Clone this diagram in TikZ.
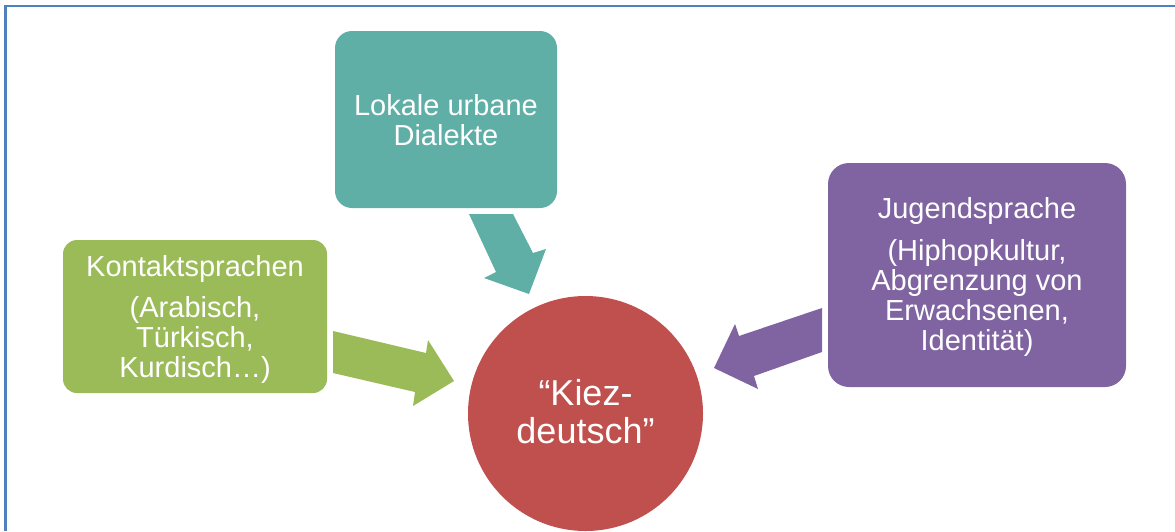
\documentclass[tikz,border=0pt]{standalone}
\usepackage{fontspec}
\setmainfont{Liberation Sans}
\definecolor{frameblue}{RGB}{79,129,189}
\definecolor{tealc}{RGB}{95,175,166}
\definecolor{greenc}{RGB}{155,187,89}
\definecolor{purplec}{RGB}{128,100,162}
\definecolor{redc}{RGB}{192,80,77}
\tikzset{
  txt/.style={text=white, align=center, inner sep=0pt, font=\fontsize{29}{30}\selectfont},
  bigtxt/.style={text=white, align=center, inner sep=0pt, font=\fontsize{36}{37.5}\selectfont},
}
\begin{document}
\begin{tikzpicture}[x=1pt,y=-1pt]
\useasboundingbox (0,0) rectangle (1175,531);
% frame (cropped on right and bottom)
\draw[frameblue, line width=2.2pt] (5.5,531) -- (5.5,6) -- (1175,6);

% boxes
\fill[tealc, rounded corners=17pt] (335,31) rectangle (557,208);
\fill[greenc, rounded corners=14pt] (63,240) rectangle (327,393);
\fill[purplec, rounded corners=21pt] (828,163) rectangle (1126,387);
% circle
\begin{scope}
\clip (0,0) rectangle (1175,531);
\fill[redc] (585.5,413.5) circle[radius=117.5];
\end{scope}

% block arrows
\fill[tealc] (469,214) -- (513,214) -- (533,253) -- (546,249) -- (529,294) -- (484,278) -- (496,272) -- cycle;
\fill[greenc] (333,331) -- (426,353) -- (428,340) -- (454,381) -- (413,406) -- (415,392) -- (333,373) -- cycle;
\fill[purplec] (822,308) -- (739,336) -- (735,324) -- (714,368) -- (758,389) -- (754,376) -- (822,352) -- cycle;

% texts (base anchor = baseline of last line)
\node[txt, anchor=base] (lokal) at (446,145) {Lokale urbane\\Dialekte};
\node[txt, anchor=base] (kontakt) at (195,377) {Kontaktsprachen\\[11pt] (Arabisch,\\Türkisch,\\Kurdisch…)};
\node[txt, anchor=base] (jugend) at (977,350) {Jugendsprache\\[12pt] (Hiphopkultur,\\Abgrenzung von\\Erwachsenen,\\Identität)};
\node[bigtxt, anchor=base] (kiez) at (585.5,443) {“Kiez-\\deutsch”};
\end{tikzpicture}
\end{document}
